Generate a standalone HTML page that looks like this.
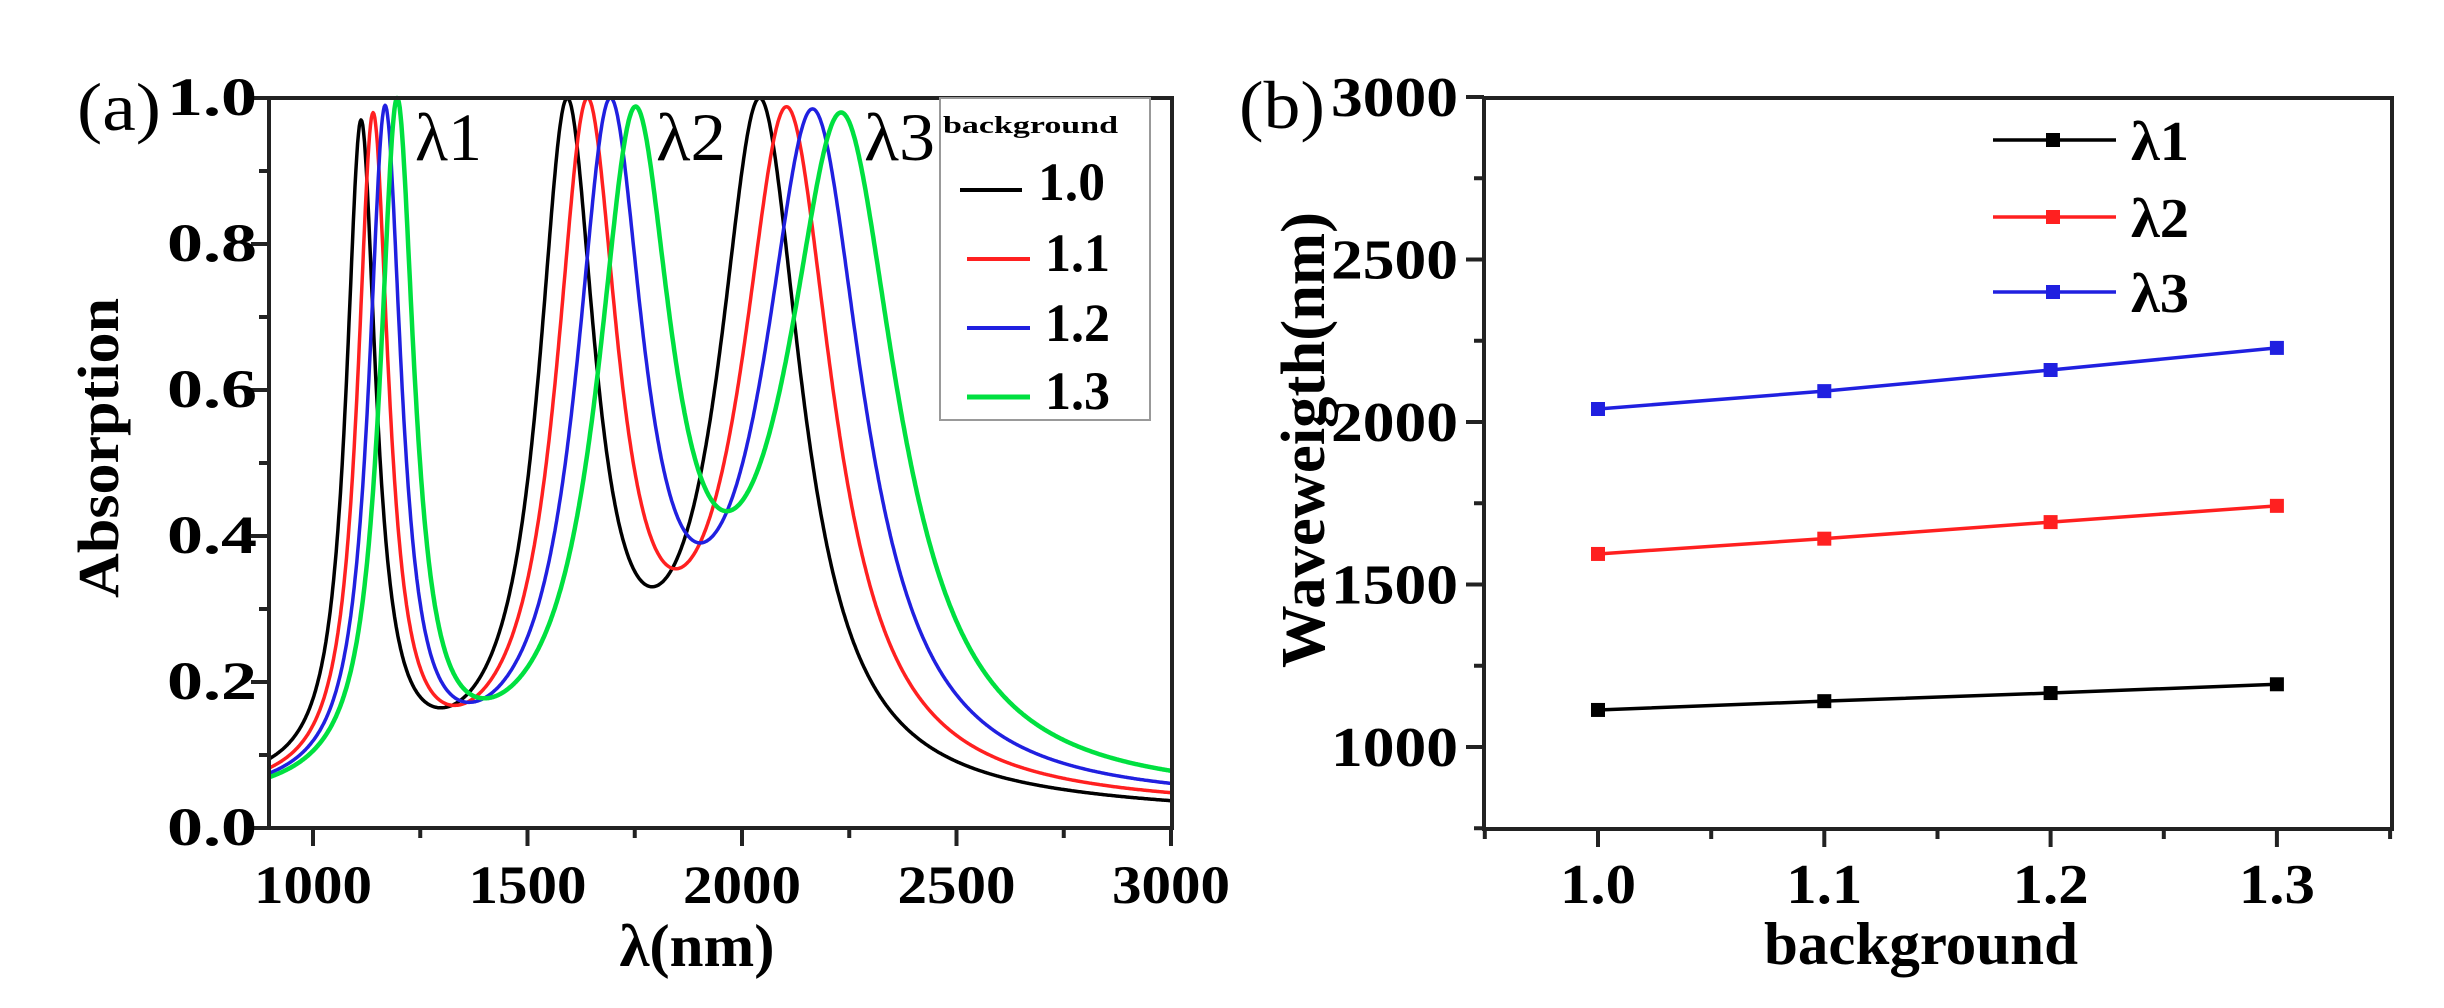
<!DOCTYPE html>
<html><head><meta charset="utf-8">
<style>
html,body{margin:0;padding:0;background:#fff;}
svg{display:block;}
text{font-family:"Liberation Serif",serif;}
.b{font-weight:bold;}
</style></head>
<body>
<svg id="s" width="2444" height="1008" viewBox="0 0 2444 1008" xmlns="http://www.w3.org/2000/svg">
<rect width="2444" height="1008" fill="#fff"/>
<g id="curves" fill="none" stroke-linejoin="round"></g>
<g stroke="#222" stroke-width="4" fill="none">
<rect x="269" y="98" width="903" height="730"/>
<path id="aticks" d=""/>
</g>
<rect x="940" y="98" width="210" height="322" fill="#fff" stroke="#999" stroke-width="2"/>
<text x="943" y="133" class="b" font-size="24" textLength="175" lengthAdjust="spacingAndGlyphs">background</text>
<line x1="960" y1="190" x2="1022" y2="190" stroke="#000" stroke-width="4"/>
<line x1="967" y1="259" x2="1030" y2="259" stroke="#ff2020" stroke-width="4"/>
<line x1="967" y1="328" x2="1030" y2="328" stroke="#2020e0" stroke-width="4"/>
<line x1="967" y1="397" x2="1030" y2="397" stroke="#00e040" stroke-width="5"/>
<g class="b" font-size="54">
<text x="1038" y="200" textLength="67" lengthAdjust="spacingAndGlyphs">1.0</text>
<text x="1045" y="271" textLength="65" lengthAdjust="spacingAndGlyphs">1.1</text>
<text x="1045" y="341" textLength="65" lengthAdjust="spacingAndGlyphs">1.2</text>
<text x="1045" y="409" textLength="65" lengthAdjust="spacingAndGlyphs">1.3</text>
</g>
<g font-size="68">
<text x="415" y="160" textLength="67" lengthAdjust="spacingAndGlyphs">λ1</text>
<text x="656" y="160" textLength="70" lengthAdjust="spacingAndGlyphs">λ2</text>
<text x="864" y="160" textLength="71" lengthAdjust="spacingAndGlyphs">λ3</text>
<text x="77" y="130" textLength="84" lengthAdjust="spacingAndGlyphs">(a)</text>
<text x="1239" y="128" textLength="86" lengthAdjust="spacingAndGlyphs">(b)</text>
</g>
<g id="alabels" class="b" font-size="54"></g>
<text x="697" y="966" class="b" font-size="60" text-anchor="middle" textLength="155" lengthAdjust="spacingAndGlyphs">λ(nm)</text>
<text transform="translate(118,448) rotate(-90)" class="b" font-size="58" text-anchor="middle" textLength="300" lengthAdjust="spacingAndGlyphs">Absorption</text>
<g stroke="#222" stroke-width="4" fill="none">
<rect x="1484" y="98" width="908" height="731"/>
<path id="bticks" d=""/>
</g>
<g id="bdata"></g>
<g id="blabels" class="b" font-size="56"></g>
<text x="1921" y="964" class="b" font-size="60" text-anchor="middle" textLength="314" lengthAdjust="spacingAndGlyphs">background</text>
<text transform="translate(1324,440) rotate(-90)" class="b" font-size="62" text-anchor="middle" textLength="456" lengthAdjust="spacingAndGlyphs">Waveweigth(nm)</text>
<g id="bleg"></g>
</svg>
<script>
const NS="http://www.w3.org/2000/svg";
function el(tag,attrs,parent,txt){const e=document.createElementNS(NS,tag);for(const k in attrs)e.setAttribute(k,attrs[k]);if(txt!==undefined)e.textContent=txt;parent.appendChild(e);return e;}
const X=l=>313+(l-1000)*0.429, Y=a=>828-a*730;
const cs=[
 {c:"#000",w:3.5,p:[1112,1592,2042],t:[0.97,1.0,1.0],k:1.0,b0:0.04,b1:0.02},
 {c:"#ff2020",w:3.5,p:[1140,1639,2105],t:[0.98,1.0,0.988],k:1.1,b0:0.03,b1:0.025},
 {c:"#2020e0",w:3.5,p:[1168,1692,2166],t:[0.99,1.0,0.985],k:1.2,b0:0.025,b1:0.03},
 {c:"#00e040",w:4.5,p:[1196,1750,2233],t:[1.0,0.988,0.98],k:1.33,b0:0.02,b1:0.035}
];
const g=document.getElementById("curves");
cs.forEach(c=>{
 const w=[42*Math.sqrt(c.k),80*c.k,118*c.k];
 const base=l=>c.b0+(c.b1-c.b0)*(l-900)/2100;
 let h=c.t.slice();
 const L=(l,i)=>h[i]/(1+((l-c.p[i])/w[i])**2);
 const f=l=>base(l)+L(l,0)+L(l,1)+L(l,2);
 for(let it=0;it<50;it++){for(let i=0;i<3;i++){h[i]+= (c.t[i]-f(c.p[i]))*0.7;}}
 let d="";
 for(let l=900;l<=3000;l+=2){d+=(l===900?"M":"L")+X(l).toFixed(1)+","+Y(Math.min(f(l),1)).toFixed(1);}
 el("path",{d:d,stroke:c.c,"stroke-width":c.w},g);
});
let d="";
for(let i=0;i<=10;i++){const y=Y(i/10);d+=`M269,${y}h${i%2?-10:-18}`;}
for(let l=1000;l<=3000;l+=250){const x=X(l);d+=`M${x},828v${l%500?10:18}`;}
document.getElementById("aticks").setAttribute("d",d);
const al=document.getElementById("alabels");
["0.0","0.2","0.4","0.6","0.8","1.0"].forEach((t,i)=>el("text",{x:257,y:Y(i*0.2)+17,"text-anchor":"end",textLength:90,lengthAdjust:"spacingAndGlyphs"},al,t));
[1000,1500,2000,2500,3000].forEach(l=>el("text",{x:X(l),y:903,"text-anchor":"middle",textLength:118,lengthAdjust:"spacingAndGlyphs"},al,String(l)));
const BX=v=>1598+(v-1.0)*2263, BY=v=>747-(v-1000)*0.325;
d="";
for(let v=750;v<=3000;v+=250){d+=`M1484,${BY(v)}h${(v%500)?-10:-18}`;}
for(let v=0.95;v<=1.351;v+=0.05){const x=BX(v);const maj=Math.abs(Math.round(v*10)-v*10)<0.01;d+=`M${x.toFixed(1)},829v${maj?18:10}`;}
document.getElementById("bticks").setAttribute("d",d);
const bl=document.getElementById("blabels");
[1000,1500,2000,2500,3000].forEach(v=>el("text",{x:1458,y:BY(v)+19,"text-anchor":"end",textLength:127,lengthAdjust:"spacingAndGlyphs"},bl,String(v)));
["1.0","1.1","1.2","1.3"].forEach((t,i)=>el("text",{x:BX(1+i*0.1),y:903,"text-anchor":"middle",textLength:76,lengthAdjust:"spacingAndGlyphs"},bl,t));
const ser=[["#000",[1114,1141,1166,1193]],["#ff2020",[1594,1641,1692,1742]],["#2020e0",[2040,2095,2160,2228]]];
const bd=document.getElementById("bdata");
ser.forEach(s=>{
 let p="";s[1].forEach((v,i)=>{p+=(i?"L":"M")+BX(1+i*0.1)+","+BY(v);});
 el("path",{d:p,stroke:s[0],"stroke-width":3.5,fill:"none"},bd);
 s[1].forEach((v,i)=>el("rect",{x:BX(1+i*0.1)-7,y:BY(v)-7,width:14,height:14,fill:s[0]},bd));
});
const lg=document.getElementById("bleg");
[[140,"λ1"],[217,"λ2"],[292,"λ3"]].forEach((r,i)=>{
 el("line",{x1:1993,y1:r[0],x2:2116,y2:r[0],stroke:ser[i][0],"stroke-width":3.5},lg);
 el("rect",{x:2046,y:r[0]-7,width:14,height:14,fill:ser[i][0]},lg);
 el("text",{x:2131,y:r[0]+20,"font-size":56,"font-weight":"bold",textLength:58,lengthAdjust:"spacingAndGlyphs"},lg,r[1]);
});
</script>
</body></html>
